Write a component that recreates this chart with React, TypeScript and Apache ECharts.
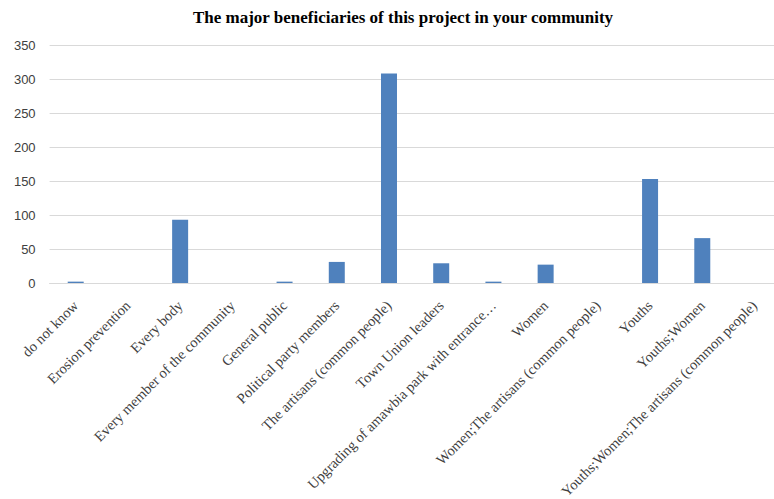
import React, { useEffect, useRef } from "react";
import * as echarts from "echarts";

const categories = [
  "do not know",
  "Erosion prevention",
  "Every body",
  "Every member of the community",
  "General public",
  "Political party members",
  "The artisans (common people)",
  "Town Union leaders",
  "Upgrading of amawbia park with entrance…",
  "Women",
  "Women;The artisans (common people)",
  "Youths",
  "Youths;Women",
  "Youths;Women;The artisans (common people)",
];

const values = [2, 0, 93, 0, 2, 31, 308, 29, 2, 27, 0, 153, 66, 0];

const yTicks = [0, 50, 100, 150, 200, 250, 300, 350];

export default function App() {
  const ref = useRef<HTMLDivElement>(null);
  useEffect(() => {
    if (!ref.current) return;
    const chart = echarts.init(ref.current, undefined, { renderer: "svg" });
    chart.setOption({
      animation: false,
      backgroundColor: "#ffffff",
      title: {
        text: "The major beneficiaries of this project in your community",
        left: 398,
        textAlign: "center",
        top: 4,
        textStyle: {
          fontFamily: "Liberation Serif",
          fontWeight: "bold",
          fontSize: 17,
          color: "#000000",
        },
      },
      grid: {
        left: 49.6,
        top: 45,
        width: 731,
        height: 238,
        containLabel: false,
        outerBoundsMode: "none",
      },
      xAxis: {
        type: "category",
        data: categories,
        axisLine: { show: true, lineStyle: { color: "#d9d9d9", width: 1 } },
        axisTick: { show: false },
        axisLabel: {
          interval: 0,
          rotate: 45,
          margin: 20,
          fontFamily: "Liberation Serif",
          fontSize: 14.5,
          color: "#404040",
        },
      },
      yAxis: {
        type: "value",
        min: yTicks[0],
        max: yTicks[yTicks.length - 1],
        interval: 50,
        axisLine: { show: false },
        axisTick: { show: false },
        splitLine: { lineStyle: { color: "#d9d9d9", width: 1 } },
        axisLabel: {
          margin: 14,
          fontFamily: "Liberation Sans",
          fontSize: 13,
          color: "#404040",
        },
      },
      series: [
        {
          type: "bar",
          data: values,
          barWidth: 16,
          itemStyle: { color: "#4f81bd" },
        },
      ],
    });
    return () => chart.dispose();
  }, []);
  return (
    <div
      ref={ref}
      style={{ position: "fixed", left: 0, top: 0, width: 774, height: 499 }}
    />
  );
}
